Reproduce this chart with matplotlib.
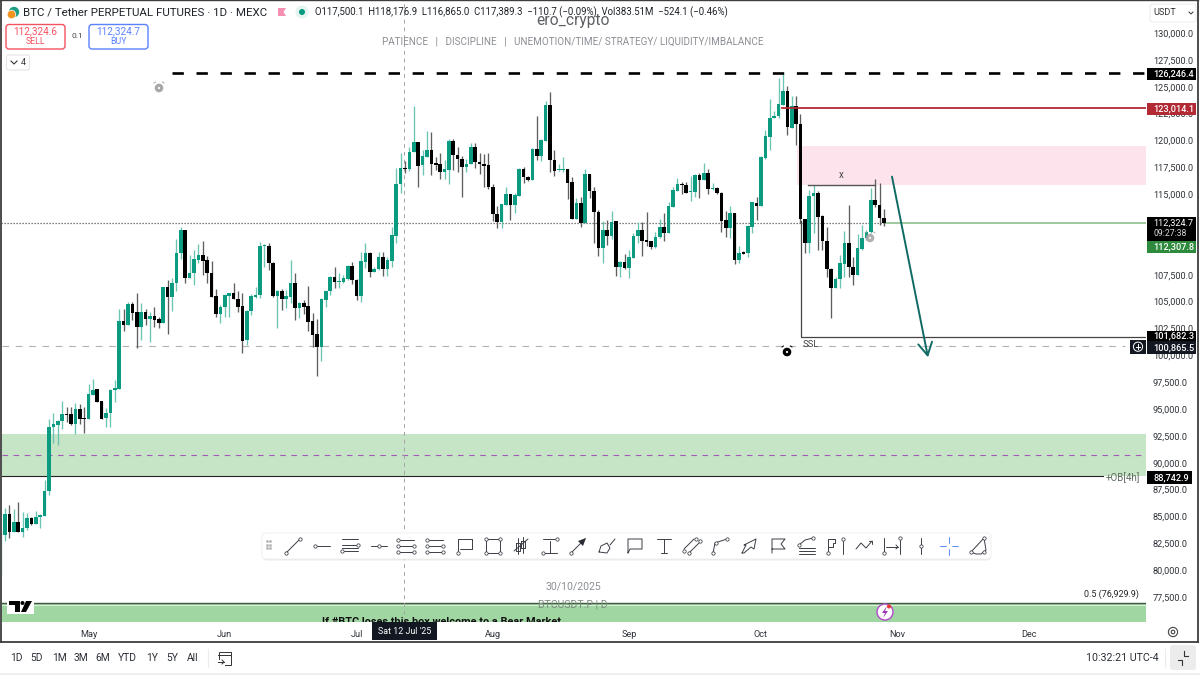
# BTC daily chart, TradingView style screenshot

import matplotlib
matplotlib.use("Agg")
import matplotlib.pyplot as plt
import numpy as np
import pandas as pd
from matplotlib.patches import Circle, FancyBboxPatch, Polygon, Rectangle

plt.rcParams["font.family"] = ["Roboto", "DejaVu Sans"]

FIRST_DAY = "2025-04-11"

# daily candles, thousands of USDT
opens = [
    79.55, 83.27, 85.20, 83.58, 84.45, 83.52, 83.89, 84.86, 84.30, 84.95,
    85.07, 87.40, 93.29, 93.51, 93.85, 94.54, 94.54, 93.60, 94.97, 94.10,
    94.04, 96.30, 96.83, 95.74, 94.13, 94.66, 96.77, 96.86, 103.19, 102.82,
    104.74, 104.03, 102.67, 104.03, 103.35, 103.66, 103.35, 103.04, 106.36, 105.46,
    106.76, 109.55, 111.66, 107.23, 107.63, 108.87, 109.34, 108.87, 107.69, 105.52,
    103.84, 104.47, 105.52, 105.77, 105.27, 104.59, 101.42, 104.12, 105.46, 105.61,
    110.14, 110.17, 108.62, 105.52, 106.02, 105.27, 105.39, 106.70, 104.40, 104.84,
    104.59, 103.19, 101.98, 100.80, 105.15, 105.95, 107.26, 106.82, 106.85, 107.10,
    108.31, 107.01, 105.52, 108.72, 109.49, 107.78, 108.03, 109.12, 108.06, 108.81,
    111.14, 115.95, 117.40, 117.31, 118.92, 119.82, 117.68, 118.49, 119.11, 117.87,
    117.78, 117.09, 117.25, 119.98, 118.67, 118.27, 117.56, 117.78, 119.36, 117.96,
    117.84, 117.68, 115.70, 113.15, 112.38, 114.02, 114.98, 113.99, 114.86, 117.37,
    116.63, 116.32, 119.20, 118.55, 119.98, 123.30, 118.18, 117.25, 117.28, 117.31,
    116.10, 112.69, 114.15, 112.35, 116.88, 115.32, 113.37, 110.02, 111.66, 111.14,
    112.50, 108.25, 108.71, 108.10, 109.09, 111.14, 111.66, 110.73, 110.60, 110.05,
    110.98, 111.97, 111.42, 113.84, 115.32, 115.98, 115.82, 115.20, 115.23, 116.75,
    116.32, 116.94, 115.45, 115.60, 115.14, 112.60, 111.88, 113.21, 108.87, 109.61,
    109.49, 111.97, 114.21, 113.90, 118.40, 120.35, 122.06, 122.27, 123.30, 124.60,
    121.19, 123.20, 121.53, 112.66, 110.49, 114.83, 115.08, 113.00, 110.64, 108.03,
    106.27, 107.07, 108.50, 110.49, 108.19, 107.47, 109.90, 110.89, 111.51, 114.46,
    113.99, 112.81,
]
highs = [
    83.60, 85.76, 86.07, 85.69, 86.38, 85.45, 85.35, 84.98, 85.54, 85.20,
    88.40, 94.07, 94.66, 93.98, 95.71, 95.22, 95.22, 95.53, 95.47, 95.16,
    97.33, 97.83, 96.83, 95.74, 95.06, 96.86, 97.70, 104.28, 104.31, 104.99,
    104.93, 105.77, 104.84, 104.28, 104.06, 104.47, 103.53, 106.39, 107.01, 107.16,
    110.79, 111.91, 111.66, 109.34, 109.80, 110.36, 110.67, 109.24, 108.81, 106.14,
    104.68, 105.71, 105.83, 106.70, 106.02, 105.83, 104.22, 105.71, 106.39, 110.58,
    110.36, 110.42, 108.72, 106.08, 106.14, 106.08, 108.87, 107.63, 104.99, 105.15,
    106.45, 103.91, 103.35, 105.30, 106.08, 107.38, 108.19, 107.63, 107.47, 108.41,
    108.72, 107.07, 109.58, 110.42, 109.65, 108.25, 109.58, 109.58, 109.18, 111.97,
    117.40, 118.80, 118.12, 119.36, 123.24, 119.89, 119.11, 120.91, 120.82, 118.43,
    118.80, 118.18, 120.13, 120.10, 119.36, 118.55, 118.24, 119.73, 119.73, 118.80,
    118.74, 118.80, 115.95, 113.93, 114.08, 115.64, 114.98, 115.08, 117.47, 117.56,
    116.69, 119.27, 122.31, 120.10, 123.67, 124.48, 119.11, 117.81, 118.49, 117.37,
    116.63, 114.61, 114.70, 117.34, 116.91, 115.64, 113.52, 112.53, 112.60, 113.43,
    112.50, 108.81, 109.43, 109.80, 111.35, 112.44, 112.44, 113.31, 110.67, 111.48,
    112.66, 113.22, 114.30, 115.70, 116.47, 116.16, 116.13, 116.69, 116.85, 116.94,
    117.87, 117.34, 116.01, 115.64, 115.23, 113.43, 113.90, 113.28, 110.17, 109.71,
    112.10, 114.30, 114.77, 118.55, 120.97, 123.86, 122.77, 125.78, 126.25, 125.07,
    124.14, 124.14, 122.46, 112.66, 115.39, 115.85, 115.32, 113.06, 111.97, 108.10,
    107.32, 109.34, 111.60, 113.99, 109.18, 111.26, 112.13, 111.66, 115.54, 116.38,
    116.01, 113.59,
]
lows = [
    79.50, 82.75, 82.96, 83.58, 83.52, 83.06, 83.74, 84.20, 84.30, 83.89,
    85.07, 87.03, 91.87, 91.65, 93.11, 93.79, 93.51, 92.67, 93.60, 92.80,
    94.04, 96.30, 95.68, 94.07, 93.36, 93.29, 95.68, 96.86, 102.26, 102.82,
    103.29, 100.65, 101.42, 102.82, 101.27, 102.67, 102.51, 103.04, 101.98, 104.15,
    106.02, 108.93, 106.70, 107.16, 106.54, 108.62, 107.47, 106.70, 105.39, 103.60,
    103.04, 103.60, 103.60, 105.21, 104.06, 100.25, 100.96, 103.75, 105.30, 105.30,
    108.25, 107.94, 105.46, 102.57, 104.22, 104.37, 104.90, 103.29, 103.44, 103.84,
    102.26, 100.80, 98.10, 99.47, 104.53, 105.61, 106.23, 106.23, 106.70, 107.01,
    106.64, 105.15, 104.99, 108.10, 107.26, 107.72, 107.94, 107.38, 107.38, 108.25,
    110.42, 115.14, 116.94, 117.19, 118.92, 115.64, 116.78, 118.43, 116.75, 117.25,
    116.41, 116.44, 115.91, 117.25, 117.09, 114.70, 117.09, 117.78, 117.40, 116.88,
    115.70, 115.45, 112.53, 111.88, 111.82, 114.02, 112.59, 113.22, 114.82, 116.01,
    116.25, 116.32, 118.18, 118.12, 119.95, 117.09, 116.69, 117.19, 117.09, 114.55,
    112.66, 112.66, 111.97, 112.35, 114.61, 110.48, 109.24, 108.62, 110.27, 110.83,
    107.38, 107.26, 108.03, 107.23, 109.09, 110.42, 109.27, 110.17, 109.86, 110.02,
    110.89, 110.67, 111.35, 113.77, 115.32, 115.01, 115.08, 114.36, 114.70, 114.67,
    116.32, 115.01, 115.39, 115.01, 111.51, 111.04, 110.95, 108.50, 108.56, 109.43,
    109.12, 111.42, 112.59, 113.90, 118.24, 119.11, 122.06, 122.06, 123.30, 120.51,
    121.13, 119.57, 112.29, 109.49, 109.49, 111.35, 109.80, 109.80, 107.32, 103.44,
    106.23, 106.23, 107.32, 107.32, 106.54, 107.47, 109.80, 110.73, 111.35, 113.77,
    112.13, 112.03,
]
closes = [
    83.27, 85.20, 83.58, 84.45, 83.52, 83.93, 84.83, 84.30, 84.95, 85.10,
    87.40, 93.30, 93.57, 93.88, 94.54, 94.47, 93.57, 94.97, 94.04, 94.04,
    96.37, 96.77, 95.68, 94.10, 94.66, 96.77, 96.93, 103.19, 102.82, 104.74,
    103.97, 102.67, 104.03, 103.38, 103.66, 103.29, 103.01, 106.36, 105.46, 106.76,
    109.55, 111.66, 107.23, 107.69, 108.93, 109.34, 108.81, 107.63, 105.46, 103.84,
    104.53, 105.58, 105.77, 105.24, 104.53, 101.36, 104.15, 105.52, 105.64, 110.17,
    110.17, 108.56, 105.52, 105.98, 105.27, 105.52, 106.70, 104.40, 104.84, 104.53,
    103.13, 101.92, 100.80, 105.21, 105.98, 107.26, 106.82, 106.95, 107.16, 108.31,
    107.01, 105.52, 108.78, 109.49, 107.78, 108.06, 109.12, 108.06, 108.87, 111.17,
    115.95, 117.47, 117.34, 118.95, 119.82, 117.65, 118.55, 119.11, 117.81, 117.71,
    117.09, 117.31, 119.95, 118.64, 118.24, 117.56, 117.84, 119.36, 117.96, 117.81,
    117.65, 115.64, 113.15, 112.44, 114.08, 114.98, 113.99, 114.92, 117.37, 116.57,
    116.32, 119.20, 118.58, 120.04, 123.30, 118.18, 117.19, 117.34, 117.34, 116.07,
    112.69, 114.15, 112.35, 116.88, 115.32, 113.37, 110.02, 111.66, 111.14, 112.44,
    108.25, 108.71, 108.10, 109.12, 111.14, 111.66, 110.67, 110.58, 110.05, 111.04,
    111.97, 111.42, 113.90, 115.39, 115.95, 115.82, 115.14, 115.29, 116.75, 116.32,
    116.94, 115.48, 115.57, 115.08, 112.53, 111.88, 113.21, 108.87, 109.55, 109.43,
    112.04, 114.24, 113.93, 118.49, 120.41, 122.12, 122.27, 123.36, 124.60, 121.22,
    123.20, 121.53, 112.66, 110.49, 114.86, 115.08, 112.90, 110.64, 108.03, 106.30,
    107.10, 108.56, 110.49, 108.19, 107.47, 109.96, 110.95, 111.51, 114.46, 113.96,
    112.81, 112.32,
]

price_ticks = list(range(77500, 130001, 2500))
month_labels = ["May", "Jun", "Jul", "Aug", "Sep", "Oct", "Nov", "Dec"]
month_starts = ["2025-05-01", "2025-06-01", "2025-07-01", "2025-08-01",
                "2025-09-01", "2025-10-01", "2025-11-01", "2025-12-01"]
range_buttons = ["1D", "5D", "1M", "3M", "6M", "YTD", "1Y", "5Y", "All"]

# drawn levels, USDT
ath_level = 126246.4
red_level = 123014.1
supply_zone = (115850, 119510)
last_price = 112324.7
ssl_box_level = 101682.3
ssl_level = 100865.5
ob_zone = (88742.9, 92670)
ob_mid = 90690
fib_level = 76929.9

GREEN = "#0a9b80"
GREEN_WICK = "#6cc4b3"
BLACK_WICK = "#5e5e5e"
TEAL_ARROW = "#0f6b64"
AXIS_TEXT = "#2e3238"


def px_x(x):
    # chart pixel column to candle index
    return (x - 0.605) / 4.395


def add_badge(ov, y0, y1, label, color, x0=1147, x1=1196, size=6.6):
    ov.add_patch(Rectangle((x0, y0), x1 - x0, y1 - y0, fc=color, ec="none", zorder=6))
    ov.text(1153, (y0 + y1) / 2, label, color="white", fontsize=size, fontweight="medium",
            ha="left", va="center", zorder=7)


def draw_alert(ov, x, y, color, alpha=1.0):
    ov.add_patch(Circle((x, y), 4.3, fc=color, ec="none", alpha=alpha, zorder=4))
    ov.add_patch(Circle((x, y), 1.1, fc="white", ec="none", alpha=alpha, zorder=4))
    ov.plot([x - 5, x - 3.5], [y - 5, y - 6], color=color, lw=0.7, alpha=alpha, zorder=4)
    ov.plot([x + 5, x + 3.5], [y - 5, y - 6], color=color, lw=0.7, alpha=alpha, zorder=4)


def draw_icon(ov, cx, lines, dots=(), color="#3a3d45"):
    for pts in lines:
        ov.plot([cx + p[0] for p in pts], [546 + p[1] for p in pts],
                color=color, lw=0.7, zorder=9, solid_capstyle="round")
    for p in dots:
        ov.plot(cx + p[0], 546 + p[1], "o", ms=2.4, mfc="white", mec=color, mew=0.55, zorder=10)


def draw_toolbar(ov):
    ov.add_patch(FancyBboxPatch((263, 534.5), 728, 26, boxstyle="round,pad=0,rounding_size=4",
                                fc="#d9d9d9", ec="none", alpha=0.5, zorder=7))
    ov.add_patch(FancyBboxPatch((262, 533), 729, 26, boxstyle="round,pad=0,rounding_size=4",
                                fc="white", ec="#ededed", lw=0.6, zorder=8))
    for gx in (267, 270):
        for gy in (541, 544.5, 548):
            ov.plot(gx, gy, "s", ms=0.9, color="#b5b5b5", zorder=9)

    draw_icon(ov, 293, [[(-7, 7), (7, -7)]], [(-7, 7), (7, -7)])
    draw_icon(ov, 322, [[(-5, 0), (8, 0)]], [(-7, 0)])
    draw_icon(ov, 350, [[(-8, -7), (8, -7)], [(-8, -1), (6, -1)], [(-6, 5), (8, 5)], [(-8, 2), (8, 2)]],
              [(8, -1), (-8, 5)])
    draw_icon(ov, 379, [[(-8, 0), (8, 0)]], [(0, 0)])
    draw_icon(ov, 406, [[(-6, -6), (8, -6)], [(-6, 6), (8, 6)], [(-8, 0), (8, 0)]],
              [(-8, -6), (-8, 0), (-8, 6), (8, 0), (8, 6)])
    draw_icon(ov, 435, [[(-6, -6), (8, -6)], [(-6, 6), (8, 6)], [(-6, 0), (6, 0)]],
              [(-8, -6), (-8, 6), (8, 6), (-8, 0), (8, 0)])
    draw_icon(ov, 465, [[(-7, 7), (-7, -7), (7, -7), (7, 3), (-5, 3)]], [(-7, 7)])
    draw_icon(ov, 493, [[(-7, -7), (7, -7), (7, 7), (-7, 7), (-7, -7)]], [(-7, -7), (7, -7), (7, 7), (-7, 7)])
    draw_icon(ov, 520, [[(-2, -8), (-2, 8)], [(3, -9), (3, 7)], [(-4, -3), (0, -3), (0, 5), (-4, 5), (-4, -3)],
                        [(1, -5), (5, -5), (5, 2), (1, 2), (1, -5)], [(-6, 5), (8, -7)]])
    draw_icon(ov, 550, [[(-7, -7), (5, -7)], [(-7, 7), (7, 7)], [(0, -5), (0, 7)]], [(7, -7), (-7, 7)])
    draw_icon(ov, 578, [[(-7, 7), (7, -7)]], [(-7, 7)])
    ov.add_patch(Polygon([(586, 538), (578, 541), (583, 546)], fc="#2a2d33", ec="none", zorder=9))
    draw_icon(ov, 607, [[(-8, 6), (-6, 0), (0, -3), (3, 2), (0, 7), (-8, 6)], [(3, -1), (8, -7)]])
    draw_icon(ov, 635, [[(-7, 7), (-7, -7), (7, -7), (7, 3), (-5, 3), (-7, 7)]])
    draw_icon(ov, 664, [[(-7, -7), (7, -7)], [(0, -7), (0, 7)], [(-3, 7), (3, 7)]])
    draw_icon(ov, 692, [[(-8, 3), (2, -7)], [(-3, 7), (7, -3)]], [(-8, 5), (4, -7), (-3, 7), (8, -5)])
    draw_icon(ov, 720, [[(-7, 7), (-5, -3), (7, -7)]], [(-7, 7), (-4, -3), (7, -7)])
    draw_icon(ov, 749, [[(-7, 7), (-3, -1), (-5, -1), (7, -7), (5, 3), (2, 1), (-5, 7), (-7, 7)]])
    draw_icon(ov, 778, [[(-6, 7), (-6, -7), (7, -7), (3, -2), (7, 3), (-6, 3)]])
    draw_icon(ov, 807, [[(-8, 8), (8, 8)], [(-8, 5), (8, 5)], [(-8, 2), (8, 2)], [(-8, -1), (-2, -6), (6, -8)]],
              [(-8, -1), (6, -8)])
    draw_icon(ov, 834, [[(-6, 7), (-6, -7), (1, -7), (1, -3), (-1, -3), (-1, 1), (-6, 1)], [(9, -5), (9, 8)]],
              [(-6, 7), (9, -7)])
    draw_icon(ov, 864, [[(-8, 3), (-3, -3), (2, 2), (8, -5)], [(5, -5), (8, -5), (8, -2)]])
    draw_icon(ov, 892, [[(-8, -8), (-8, 7)], [(8, -6), (8, 8)], [(-6, 1), (6, 1)], [(4, -1), (6, 1), (4, 3)]],
              [(-8, 7), (8, -8)])
    draw_icon(ov, 921, [[(0, -8), (0, 8)]], [(0, 0)])
    for seg in ([(-9, 0), (-3, 0)], [(3, 0), (9, 0)], [(0, -9), (0, -3)], [(0, 3), (0, 9)]):
        draw_icon(ov, 949, [seg], color="#5c8dff")
    draw_icon(ov, 978, [[(-7, 6), (6, -8), (8, 4), (3, 8), (-2, 8), (-7, 6)]], [(-7, 6), (6, -8), (6, 6)])


def draw_header(ov):
    ov.add_patch(Circle((14, 12), 5.2, fc="#1f9e86", ec="none", zorder=5))
    ov.add_patch(Circle((11.5, 14.5), 4.6, fc="white", ec="none", zorder=5))
    ov.add_patch(Circle((11.5, 14.5), 3.9, fc="#f2941e", ec="none", zorder=6))
    ov.text(23, 12.5, "BTC / Tether PERPETUAL FUTURES · 1D · MEXC", fontsize=8.25, color="#1f2329",
            ha="left", va="center", zorder=6)
    ov.add_patch(Polygon([(278, 8), (286, 8), (283.5, 12), (286, 16), (278, 16)], fc="#f48fb1", ec="none", zorder=6))
    ov.add_patch(Circle((302, 12), 6.5, fc="#e6f4f1", ec="none", zorder=5))
    ov.add_patch(Circle((302, 12), 3, fc="#089981", ec="none", zorder=6))
    ov.text(315, 12.5, "O117,500.1  H118,176.9  L116,865.0  C117,389.3  −110.7 (−0.09%)  Vol383.51M  −524.1 (−0.46%)",
            fontsize=6.97, color="#1f2329", ha="left", va="center", zorder=6)
    ov.text(573, 21, "ero_crypto", fontsize=11.2, color="#5d5f63", ha="center", va="center", zorder=5)
    ov.text(573, 41, "PATIENCE   |   DISCIPLINE   |   UNEMOTION/TIME/ STRATEGY/ LIQUIDITY/IMBALANCE",
            fontsize=7.15, color="#8b8e94", ha="center", va="center", zorder=5)

    for x0, label, side, col in ((6, "112,324.6", "SELL", "#f7525f"), (89, "112,324.7", "BUY", "#5b82ff")):
        ov.add_patch(FancyBboxPatch((x0, 24.5), 59, 24.5, boxstyle="round,pad=0,rounding_size=3",
                                    fc="white", ec=col, lw=1.0, zorder=6))
        ov.text(x0 + 29.5, 31.5, label, fontsize=7.2, color=col, ha="center", va="center", zorder=7)
        ov.text(x0 + 29.5, 42, side, fontsize=6.3, color=col, ha="center", va="center", zorder=7)
    ov.text(77, 36.5, "0.1", fontsize=6, color="#444", ha="center", va="center", zorder=7)
    ov.add_patch(FancyBboxPatch((6.5, 55), 23, 15, boxstyle="round,pad=0,rounding_size=2",
                                fc="white", ec="#e5e5e5", lw=0.8, zorder=6))
    ov.plot([11, 14, 17], [61, 64, 61], color="#333", lw=0.8, zorder=7)
    ov.text(23.5, 62.5, "4", fontsize=6.5, color="#333", ha="center", va="center", zorder=7)

    ov.add_patch(FancyBboxPatch((1150, 4), 46, 18, boxstyle="round,pad=0,rounding_size=3",
                                fc="white", ec="#eeeeee", lw=0.8, zorder=6))
    ov.text(1153, 12.5, "USDT", fontsize=6.6, color="#333", ha="left", va="center", zorder=7)
    ov.plot([1189, 1191, 1193], [12, 14, 12], color="#333", lw=0.7, zorder=7)


def draw_footer(ov):
    ov.add_patch(Rectangle((0, 642), 1200, 33, fc="white", ec="none", zorder=3))
    ov.add_patch(Rectangle((0, 672.5), 1200, 2.5, fc="#efefef", ec="none", zorder=3))
    ov.plot([0, 1198], [641.5, 641.5], color="#3e3e3e", lw=1.3, zorder=6)
    ov.plot([0.7, 0.7], [0, 642], color="#3e3e3e", lw=1.3, zorder=6)
    ov.plot([1198, 1198], [0, 642], color="#3e3e3e", lw=1.3, zorder=6)
    ov.plot([0, 1198], [0.4, 0.4], color="#3e3e3e", lw=1.0, zorder=6)

    for lab, x in zip(range_buttons, [16, 37, 59, 81, 103, 127, 152, 172, 193]):
        ov.text(x, 658, lab, fontsize=7.4, color="#2a2e35", ha="center", va="center", zorder=6)
    ov.plot([207.5, 207.5], [649, 667], color="#ececec", lw=0.8, zorder=6)
    ov.add_patch(Rectangle((219, 652), 12, 13, fc="none", ec="#333", lw=0.7, zorder=6))
    ov.add_patch(Rectangle((217, 660), 8, 8, fc="white", ec="none", zorder=6))
    ov.plot([218, 231], [655, 655], color="#333", lw=0.7, zorder=7)
    ov.plot([218, 224], [662, 662], color="#333", lw=0.7, zorder=7)
    ov.plot([222, 224, 222], [660, 662, 664], color="#333", lw=0.7, zorder=7)

    ov.text(1122, 658, "10:32:21 UTC-4", fontsize=7.7, color="#2a2e35", ha="center", va="center", zorder=6)
    ov.plot([1165, 1165], [649, 667], color="#ececec", lw=0.8, zorder=6)
    ov.add_patch(FancyBboxPatch((1170, 645), 26, 25, boxstyle="round,pad=0,rounding_size=3",
                                fc="#ececec", ec="none", zorder=5))
    ov.plot([1178, 1182, 1182], [660, 660, 665], color="#333", lw=0.8, zorder=6)
    ov.plot([1184, 1184, 1188], [651, 656, 656], color="#333", lw=0.8, zorder=6)

    # gear in the corner of the time axis
    ov.add_patch(Circle((1173, 632), 4.6, fc="white", ec="#444", lw=0.8, zorder=6))
    ov.add_patch(Circle((1173, 632), 1.8, fc="white", ec="#444", lw=0.8, zorder=6))

    # logo in the corner of the pane
    ov.add_patch(Rectangle((7, 599), 27, 15, fc="white", ec="none", zorder=6))
    ov.add_patch(Polygon([(9, 601), (20, 601), (20, 612), (15, 612), (15, 605), (9, 605)], fc="black", zorder=7))
    ov.add_patch(Polygon([(21, 612), (26, 601), (32, 601), (26, 612)], fc="black", zorder=7))
    ov.add_patch(Circle((22.5, 603), 2, fc="black", zorder=7))

    # purple badge on the green box
    ov.add_patch(Circle((885, 612), 8, fc="white", ec="#b04ac8", lw=1.0, zorder=6))
    ov.add_patch(Polygon([(887, 606), (882, 613), (885, 613), (883, 618), (888, 611), (885, 611)],
                         fc="#9c36b5", zorder=7))
    ov.add_patch(Circle((889, 606.5), 2, fc="#ee3333", ec="none", zorder=8))


def main():
    o = np.array(opens) * 1000
    h = np.array(highs) * 1000
    l = np.array(lows) * 1000
    c = np.array(closes) * 1000
    idx = np.arange(len(o))
    up = c >= o

    fig = plt.figure(figsize=(12, 6.75), dpi=100, facecolor="white")
    ax = fig.add_axes([1.5 / 1200, (675 - 622) / 675, 1144.5 / 1200, 622 / 675])
    ov = fig.add_axes([0, 0, 1, 1], facecolor="none", zorder=5)
    ov.set_xlim(0, 1200)
    ov.set_ylim(675, 0)
    ov.axis("off")

    ax.set_xlim(px_x(1.5), px_x(1146))
    ax.set_ylim(130000 - 589 / 0.010743, 130000 + 33 / 0.010743)

    # zones and levels
    ax.axhspan(ob_zone[0], ob_zone[1], color="#c6e4c6", lw=0, zorder=1)
    ax.axhspan(fib_level, ax.get_ylim()[0], color="#a0d6a1", lw=0, zorder=1)
    ax.axhline(fib_level, color="#3f5a40", lw=1.0, zorder=1.2)
    ax.axhline(fib_level - 170, color="#dcefdc", lw=0.7, zorder=1.2)
    ax.axhline(ob_mid, color="#a25cb8", lw=0.8, dashes=(5, 5), zorder=1.5)
    ax.plot([idx[0], px_x(1103)], [ob_zone[0], ob_zone[0]], color="#222", lw=0.8, zorder=1.5)
    ax.fill_between([px_x(797), px_x(1146)], supply_zone[0], supply_zone[1], color="#fde4ec", lw=0, zorder=1)
    ax.plot([px_x(2), px_x(1125)], [ssl_level, ssl_level], color="#b3b3b3", lw=0.8, dashes=(6, 6), zorder=1.5)
    ax.plot([idx[0], idx[-1]], [last_price, last_price], color="#555", lw=0.9, dashes=(1, 1.4), zorder=1.6)
    ax.plot([idx[-1], px_x(1146)], [last_price, last_price], color="#8fbf8f", lw=1.2, zorder=1.6)
    ax.axvline(px_x(404), color="#a5a5a5", lw=0.7, dashes=(4, 4), zorder=1.7)

    # candles
    ax.vlines(idx[up], l[up], h[up], color=GREEN_WICK, lw=0.95, zorder=2)
    ax.vlines(idx[~up], l[~up], h[~up], color=BLACK_WICK, lw=0.95, zorder=2)
    tops = np.maximum(o, c)
    bots = np.minimum(o, c)
    heights = np.maximum(tops - bots, 90)
    ax.bar(idx[up], heights[up], bottom=bots[up], width=0.82, color=GREEN, lw=0, zorder=3)
    ax.bar(idx[~up], heights[~up], bottom=bots[~up], width=0.82, color="black", lw=0, zorder=3)

    # drawings on top of the candles
    ax.plot([px_x(172), px_x(1146)], [ath_level, ath_level], color="black", lw=1.9, dashes=(4.3, 4.8), zorder=4)
    ax.plot([px_x(782), px_x(1146)], [red_level, red_level], color="#b22833", lw=1.3, zorder=4)
    ax.plot([px_x(801), px_x(801), px_x(1146)], [112500, ssl_box_level, ssl_box_level], color="#444", lw=0.9, zorder=4)
    ax.plot([px_x(808), px_x(875)], [115880, 115880], color="#555", lw=1.0, zorder=4)
    ax.text(px_x(841.5), 116330, "x", fontsize=7, color="#444", ha="center", va="bottom", zorder=5)
    ax.annotate("", xy=(px_x(928), ssl_level - 1050), xytext=(px_x(892), 116630),
                arrowprops=dict(arrowstyle="->,head_length=0.75,head_width=0.42", color=TEAL_ARROW,
                                lw=1.4, mutation_scale=12, shrinkA=0, shrinkB=0), zorder=5)

    # axes
    for s in ax.spines.values():
        s.set_visible(False)
    ax.yaxis.tick_right()
    ax.set_yticks(price_ticks)
    ax.set_yticklabels([f"{p:,.1f}" for p in price_ticks], fontsize=6.6, color=AXIS_TEXT)
    ax.tick_params(axis="y", length=0, pad=5)
    start = pd.Timestamp(FIRST_DAY)
    ax.set_xticks([(pd.Timestamp(d) - start).days for d in month_starts])
    ax.set_xticklabels(month_labels, fontsize=6.6, color=AXIS_TEXT)
    ax.tick_params(axis="x", length=0, pad=6)

    # text on the pane
    ax.text(441, 617, "If #BTC loses this box welcome to a Bear Market", transform=ov.transData,
            fontsize=7.8, fontweight="bold", color="#111", ha="center", va="top", clip_on=True, zorder=4)
    ax.text(573, 586, "30/10/2025", transform=ov.transData, fontsize=7.6, color="#8c8f94",
            ha="center", va="center", zorder=4)
    ax.text(573, 604.5, "BTCUSDT.P | D", transform=ov.transData, fontsize=7.6, color="#7d8e80",
            ha="center", va="center", zorder=4)
    ax.text(1139, 594, f"0.5 ({fib_level:,.1f})", transform=ov.transData, fontsize=6.4, color="#222",
            ha="right", va="center", zorder=4)
    ax.text(1106, 477.5, "+OB[4h]", transform=ov.transData, fontsize=7, color="#5c6b5c",
            ha="left", va="center", zorder=4)
    ax.text(803, 344.5, "SSL", transform=ov.transData, fontsize=6.8, color="#444",
            ha="left", va="center", zorder=4)

    # price badges
    add_badge(ov, 68, 80, f"{ath_level:,.1f}", "black")
    add_badge(ov, 103, 115, f"{red_level:,.1f}", "#b22833")
    add_badge(ov, 217, 241, "", "black")
    ov.text(1153, 223.5, f"{last_price:,.1f}", color="white", fontsize=6.6, ha="left", va="center", zorder=7)
    ov.text(1153, 234, "09:27:38", color="#d8d8d8", fontsize=6.2, ha="left", va="center", zorder=7)
    add_badge(ov, 241, 253, "112,307.8", "#2e8b3d")
    add_badge(ov, 331, 341, f"{ssl_box_level:,.1f}", "black")
    add_badge(ov, 341, 354, f"{ssl_level:,.1f}", "#131722")
    add_badge(ov, 471, 484, "88,742.9", "black", x1=1192)
    ov.add_patch(Rectangle((1130, 339.5), 16, 14.5, fc="#131722", ec="none", zorder=6))
    ov.add_patch(Circle((1138, 346.7), 4.6, fc="none", ec="white", lw=0.7, zorder=7))
    ov.plot([1135.7, 1140.3], [346.7, 346.7], color="white", lw=0.7, zorder=7)
    ov.plot([1138, 1138], [344.4, 349], color="white", lw=0.7, zorder=7)

    # crosshair date
    ov.add_patch(Rectangle((372, 622), 65, 18, fc="#131722", ec="none", zorder=6))
    ov.text(404.5, 632, "Sat 12 Jul '25", color="white", fontsize=6.4, ha="center", va="center", zorder=7)

    draw_alert(ov, 159, 88, "#a8a8a8")
    draw_alert(ov, 787, 352, "black")
    draw_alert(ov, 870, 238, "#a8a8a8", alpha=0.9)

    draw_toolbar(ov)
    draw_header(ov)
    draw_footer(ov)

    fig.savefig("out.png", dpi=100)
    plt.close(fig)


if __name__ == "__main__":
    main()
